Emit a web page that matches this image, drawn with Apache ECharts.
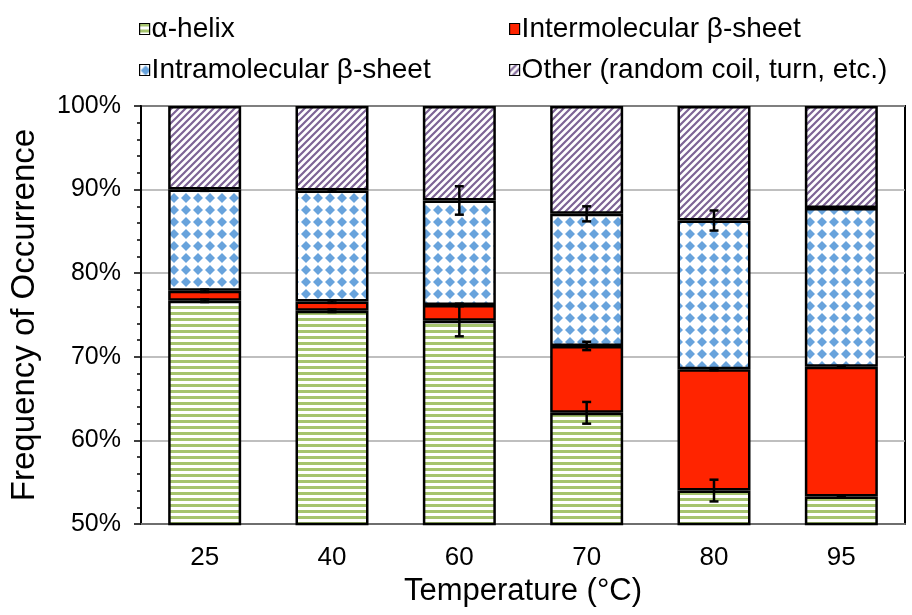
<!DOCTYPE html>
<html>
<head>
<meta charset="utf-8">
<script src="https://cdn.jsdelivr.net/npm/echarts@6/dist/echarts.min.js"></script>
<style>
html,body{margin:0;padding:0;background:#fff;}
#chart{width:912px;height:615px;}
</style>
</head>
<body>
<div id="chart"></div>
<script>
// ---- data ----
var categories = ['25', '40', '60', '70', '80', '95'];
var seriesNames = ['α-helix', 'Intermolecular β-sheet', 'Intramolecular β-sheet', 'Other (random coil, turn, etc.)'];
var helix = [76.7, 75.5, 74.3, 63.3, 54.0, 53.3];
var interSheet = [1.2, 1.1, 1.9, 8.0, 14.5, 15.5];
var intraSheet = [12.1, 13.3, 12.5, 15.8, 17.8, 19.0];
var other = [10.0, 10.1, 11.3, 12.9, 13.7, 12.2];
var errHelix = [0.15, 0.15, 1.85, 1.3, 1.3, 0.1];
var errInter = [0.15, 0.15, 0.15, 0.5, 0.1, 0.1];
var errIntra = [0.15, 0.15, 1.7, 0.9, 1.2, 0.1];
var yTicks = {min: 50, max: 100, interval: 10};

// ---- patterns ----
function makeTile(w, h, draw) {
  var c = document.createElement('canvas');
  c.width = w; c.height = h;
  var ctx = c.getContext('2d');
  ctx.fillStyle = '#ffffff';
  ctx.fillRect(0, 0, w, h);
  draw(ctx, w, h);
  return c;
}
var stripeTile = makeTile(6, 6, function (ctx, w, h) {
  ctx.fillStyle = '#a6c46e';
  ctx.fillRect(0, 0, w, 3);
});
var diamondTile = makeTile(12, 12, function (ctx, w, h) {
  ctx.fillStyle = '#68a3dc';
  ctx.beginPath();
  ctx.moveTo(6, 1);
  ctx.lineTo(11, 6);
  ctx.lineTo(6, 11);
  ctx.lineTo(1, 6);
  ctx.closePath();
  ctx.fill();
});
var diagTile = makeTile(7, 7, function (ctx, w, h) {
  ctx.strokeStyle = '#7d6495';
  ctx.lineWidth = 2.2;
  ctx.beginPath();
  ctx.moveTo(-1, 8); ctx.lineTo(8, -1);
  ctx.moveTo(-8, 8); ctx.lineTo(1, -1);
  ctx.moveTo(6, 8); ctx.lineTo(15, -1);
  ctx.stroke();
});
var fills = [
  {image: stripeTile, repeat: 'repeat'},
  '#ff2400',
  {image: diamondTile, repeat: 'repeat'},
  {image: diagTile, repeat: 'repeat'}
];
var values = [helix, interSheet, intraSheet, other];
var errs = [errHelix, errInter, errIntra];

var chart = echarts.init(document.getElementById('chart'), null, {renderer: 'canvas'});

var series = [];
for (var s = 0; s < 4; s++) {
  series.push({
    name: seriesNames[s],
    type: 'bar',
    stack: 'total',
    barWidth: 73,
    data: values[s],
    itemStyle: {color: fills[s], borderColor: '#000', borderWidth: 2.5},
    emphasis: {disabled: true},
    z: 2
  });
}
// error bars at cumulative tops
var errData = [];
var cum = categories.map(function () { return 0; });
for (var s2 = 0; s2 < 3; s2++) {
  for (var i = 0; i < categories.length; i++) {
    cum[i] += values[s2][i];
    errData.push([i, cum[i], errs[s2][i]]);
  }
}
series.push({
  type: 'custom',
  name: 'err',
  z: 10,
  silent: true,
  data: errData,
  renderItem: function (params, api) {
    var x = api.value(0), y = api.value(1), e = api.value(2);
    var hi = api.coord([x, y + e]);
    var lo = api.coord([x, y - e]);
    var hw = 4.5;
    var st = {stroke: '#000', lineWidth: 2.5};
    return {
      type: 'group',
      children: [
        {type: 'line', shape: {x1: hi[0], y1: hi[1], x2: lo[0], y2: lo[1]}, style: st},
        {type: 'line', shape: {x1: hi[0] - hw, y1: hi[1], x2: hi[0] + hw, y2: hi[1]}, style: st},
        {type: 'line', shape: {x1: lo[0] - hw, y1: lo[1], x2: lo[0] + hw, y2: lo[1]}, style: st}
      ]
    };
  }
});

var fontFam = '"Liberation Sans", Arial, Helvetica, sans-serif';
function legendAt(name, left, top) {
  return {
    data: [{name: name, icon: 'rect'}],
    left: left, top: top, padding: 0,
    itemWidth: 10, itemHeight: 11,
    itemStyle: {borderColor: '#000', borderWidth: 1.2},
    selectedMode: false,
    textStyle: {fontFamily: fontFam, fontSize: 28, color: '#000', padding: [0, 0, 0, -3]}
  };
}

chart.setOption({
  animation: false,
  backgroundColor: '#fff',
  textStyle: {fontFamily: fontFam},
  legend: [
    legendAt(seriesNames[0], 139, 15),
    legendAt(seriesNames[1], 509, 15),
    legendAt(seriesNames[2], 139, 56),
    legendAt(seriesNames[3], 509, 56)
  ],
  grid: {
    left: 138, right: 7, top: 106, bottom: 91,
    show: true, borderColor: '#000', borderWidth: 2, backgroundColor: 'transparent'
  },
  xAxis: {
    type: 'category',
    data: categories,
    name: 'Temperature (°C)',
    nameLocation: 'middle',
    nameGap: 40,
    nameTextStyle: {fontFamily: fontFam, fontSize: 31, color: '#000'},
    axisLine: {lineStyle: {color: '#6e6e6e', width: 2}},
    axisTick: {show: false},
    axisLabel: {fontFamily: fontFam, fontSize: 26, color: '#000', margin: 21}
  },
  yAxis: {
    type: 'value',
    min: yTicks.min, max: yTicks.max, interval: yTicks.interval,
    name: 'Frequency of Occurrence',
    nameLocation: 'middle',
    nameGap: 100,
    nameTextStyle: {fontFamily: fontFam, fontSize: 33, color: '#000'},
    axisLine: {show: true, lineStyle: {color: '#000', width: 2}},
    axisTick: {show: true, length: 7, lineStyle: {color: '#000', width: 1.5}},
    minorTick: {show: true, splitNumber: 5, length: 4, lineStyle: {color: '#000', width: 1.5}},
    splitLine: {show: true, lineStyle: {color: '#aaaaaa', width: 1.5}},
    axisLabel: {fontFamily: fontFam, fontSize: 25, color: '#000', margin: 20, formatter: '{value}%'}
  },
  series: series
});
</script>
</body>
</html>
